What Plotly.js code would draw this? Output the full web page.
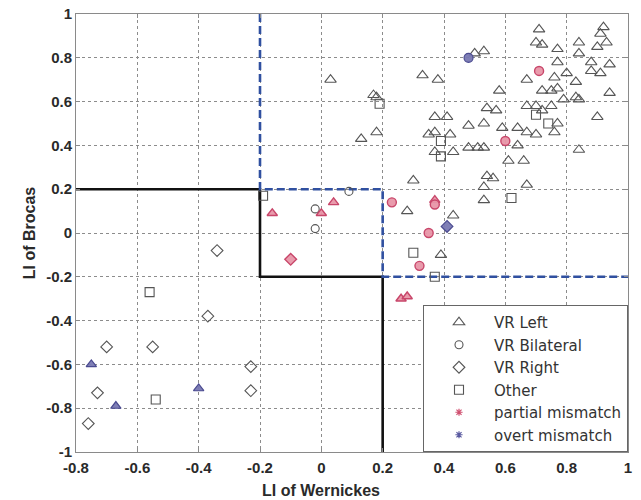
<!DOCTYPE html>
<html>
<head>
<meta charset="utf-8">
<script src="https://cdn.plot.ly/plotly-3.0.1.min.js"></script>
<style>html,body{margin:0;padding:0;background:#fff;}#chart{width:641px;height:500px;}</style>
</head>
<body>
<div id="chart"></div>
<script>
// ---- data (LI values) ----
var leftX = [0.03,0.17,0.18,0.13,0.18,0.33,0.38,0.50,0.53,0.58,0.54,0.57,0.37,0.41,0.48,0.53,0.59,0.35,0.37,0.42,0.48,0.51,0.53,0.37,0.43,0.30,0.54,0.56,0.53,0.53,0.28,0.43,0.39,0.64,0.67,0.70,0.77,0.76,0.90,0.64,0.84,0.61,0.66,0.67,0.71,0.70,0.72,0.77,0.84,0.84,0.92,0.91,0.93,0.90,0.77,0.67,0.76,0.80,0.83,0.88,0.88,0.91,0.94,0.94,0.72,0.75,0.77,0.79,0.83,0.67,0.70,0.72,0.75,0.84];
var leftY = [0.70,0.63,0.62,0.43,0.46,0.72,0.70,0.82,0.83,0.65,0.57,0.56,0.53,0.53,0.49,0.50,0.48,0.45,0.46,0.45,0.39,0.39,0.39,0.37,0.37,0.24,0.26,0.25,0.21,0.15,0.10,0.08,-0.10,0.48,0.46,0.45,0.50,0.46,0.53,0.40,0.38,0.33,0.33,0.22,0.93,0.87,0.86,0.84,0.87,0.82,0.94,0.91,0.87,0.85,0.78,0.70,0.71,0.73,0.69,0.78,0.74,0.73,0.77,0.64,0.65,0.65,0.66,0.61,0.62,0.58,0.58,0.56,0.58,0.61];

var bilatX = [-0.02,-0.02,0.09];
var bilatY = [0.11,0.02,0.19];

var rightX = [-0.34,-0.37,-0.70,-0.55,-0.23,-0.23,-0.73,-0.76];
var rightY = [-0.08,-0.38,-0.52,-0.52,-0.61,-0.72,-0.73,-0.87];

var otherX = [-0.19,0.19,0.39,0.39,0.74,0.62,0.30,0.37,-0.56,-0.54,0.70];
var otherY = [0.17,0.59,0.42,0.35,0.50,0.16,-0.09,-0.20,-0.27,-0.76,0.54];

var partialX = [-0.16,0.00,0.04,0.26,0.28,0.37,-0.10,0.23,0.37,0.35,0.32,0.60,0.71];
var partialY = [0.09,0.09,0.14,-0.30,-0.29,0.15,-0.12,0.14,0.13,0.00,-0.15,0.42,0.74];
var partialCls = ['Left','Left','Left','Left','Left','Left','Right','Bilateral','Bilateral','Bilateral','Bilateral','Bilateral','Bilateral'];

var overtX = [0.48,0.41,-0.75,-0.40,-0.67];
var overtY = [0.80,0.03,-0.60,-0.71,-0.79];
var overtCls = ['Bilateral','Right','Left','Left','Left'];

// boundary lines
var solidX = [-0.8,-0.2,-0.2,0.2,0.2];
var solidY = [0.2,0.2,-0.2,-0.2,-1];
var dashX = [-0.2,-0.2,0.2,0.2,1];
var dashY = [1,0.2,0.2,-0.2,-0.2];

var tickVals = [-0.8,-0.6,-0.4,-0.2,0,0.2,0.4,0.6,0.8,1];
var tickText = ['-0.8','-0.6','-0.4','-0.2','0','0.2','0.4','0.6','0.8','1'];
var yTickVals = [-1,-0.8,-0.6,-0.4,-0.2,0,0.2,0.4,0.6,0.8,1];
var yTickText = ['-1','-0.8','-0.6','-0.4','-0.2','0','0.2','0.4','0.6','0.8','1'];

var seriesNames = ['VR Left','VR Bilateral','VR Right','Other','partial mismatch','overt mismatch'];
var xTitle = 'LI of Wernickes';
var yTitle = 'LI of Brocas';
var xTitleAt = 0;   // x value under which the x label is centred in the reference

// ---- styling ----
var symFor = {Left:'triangle-up', Bilateral:'circle', Right:'diamond', Other:'square'};
var gray = '#555';
var FONT = 'Liberation Sans, Arial, sans-serif';

function openTrace(name, xs, ys, sym, size) {
  return {type:'scatter', mode:'markers', name:name, x:xs, y:ys,
    marker:{symbol:sym+'-open', size:size, color:gray, line:{width:1.1, color:gray}}};
}

var traces = [
  {type:'scatter', mode:'lines', x:solidX, y:solidY, showlegend:false, hoverinfo:'skip',
   line:{color:'#111', width:2.6}},
  {type:'scatter', mode:'lines', x:dashX, y:dashY, showlegend:false, hoverinfo:'skip',
   line:{color:'#3050a0', width:2.6, dash:'8px,4px'}},
  openTrace(seriesNames[0], leftX, leftY, 'triangle-up', 10),
  openTrace(seriesNames[1], bilatX, bilatY, 'circle', 8),
  openTrace(seriesNames[2], rightX, rightY, 'diamond', 9),
  openTrace(seriesNames[3], otherX, otherY, 'square', 9),
  {type:'scatter', mode:'markers', x:partialX, y:partialY, showlegend:false,
   marker:{symbol:partialCls.map(function(c){return symFor[c];}), size:9,
     color:'rgba(232,150,168,0.95)', line:{width:1.4, color:'#c8466a'}}},
  {type:'scatter', mode:'markers', x:overtX, y:overtY, showlegend:false,
   marker:{symbol:overtCls.map(function(c){return symFor[c];}), size:9,
     color:'rgba(120,120,178,0.95)', line:{width:1.2, color:'#4a4a90'}}},
  {type:'scatter', mode:'markers', name:seriesNames[4], x:[null], y:[null],
   marker:{symbol:'asterisk-open', size:6, color:'#d05070', line:{width:1.2, color:'#d05070'}}},
  {type:'scatter', mode:'markers', name:seriesNames[5], x:[null], y:[null],
   marker:{symbol:'asterisk-open', size:6, color:'#5a5aa0', line:{width:1.2, color:'#5a5aa0'}}}
];

var axisCommon = {
  showline:true, mirror:'allticks', linecolor:'#8a8a8a', linewidth:1,
  ticks:'inside', ticklen:4, tickcolor:'#8a8a8a',
  showgrid:true, gridcolor:'#8c8c8c', griddash:'dot', gridwidth:1,
  zeroline:false, tickmode:'array',
  tickfont:{family:FONT, size:15, color:'#2a2a2a', weight:'bold'}
};

var layout = {
  width:641, height:500,
  margin:{l:76, r:13, t:14, b:48},
  paper_bgcolor:'#fff', plot_bgcolor:'#fff',
  showlegend:true,
  xaxis:Object.assign({}, axisCommon, {range:[-0.8,1], tickvals:tickVals, ticktext:tickText,
    ticklabelstandoff:2}),
  yaxis:Object.assign({}, axisCommon, {range:[-1,1], tickvals:yTickVals, ticktext:yTickText,
    title:{text:yTitle, font:{family:FONT, size:16, color:'#2a2a2a', weight:'bold'}, standoff:6}}),
  annotations:[{text:xTitle, xref:'x', yref:'paper', x:xTitleAt, y:0, yshift:-38,
    xanchor:'center', yanchor:'middle', showarrow:false,
    font:{family:FONT, size:16, color:'#2a2a2a', weight:'bold'}}],
  legend:{x:1, xanchor:'right', y:0, yanchor:'bottom', bgcolor:'#fff',
    bordercolor:'#666', borderwidth:1, itemwidth:60,
    font:{family:'DejaVu Sans, sans-serif', size:15, color:'#333'}, tracegroupgap:0}
};

Plotly.newPlot('chart', traces, layout, {displayModeBar:false, staticPlot:true});
</script>
</body>
</html>
